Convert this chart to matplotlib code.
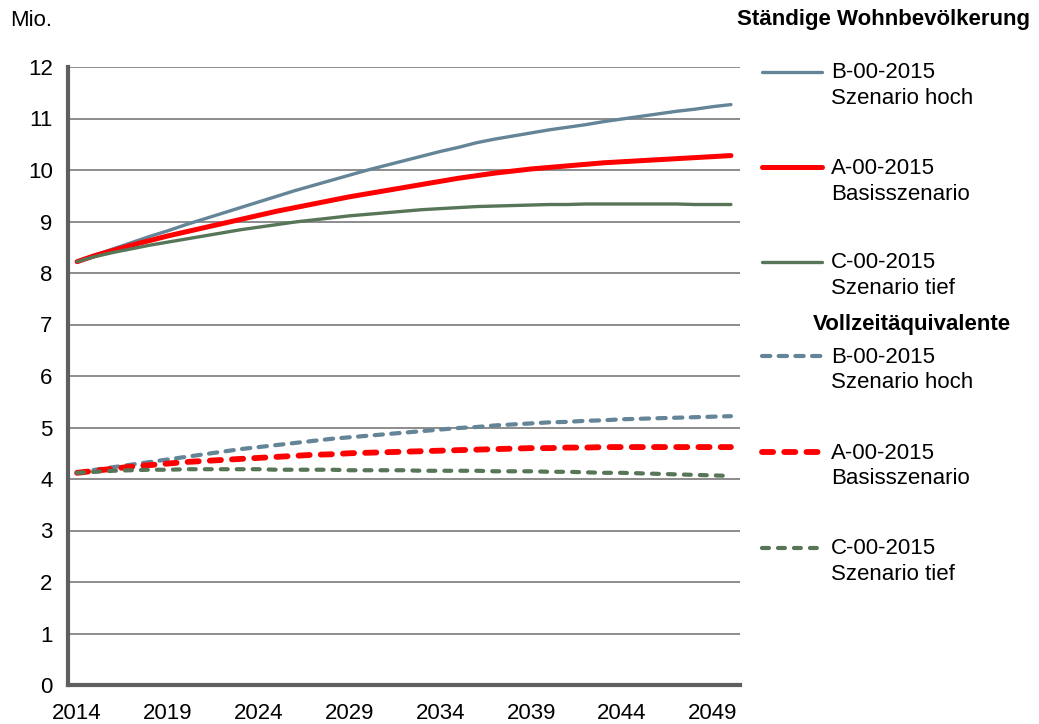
import matplotlib
matplotlib.use("Agg")
import matplotlib.pyplot as plt
from matplotlib.lines import Line2D
import numpy as np

plt.rcParams['font.family'] = ['Liberation Sans', 'DejaVu Sans']
plt.rcParams['lines.scale_dashes'] = False

years = list(range(2014, 2051))
tick_years = [2014, 2019, 2024, 2029, 2034, 2039, 2044, 2049]
y_ticks = list(range(0, 13))

pop_B = [8.22, 8.35, 8.47, 8.59, 8.71, 8.82, 8.94, 9.05, 9.16, 9.27, 9.38, 9.49, 9.60,
         9.70, 9.80, 9.90, 10.00, 10.09, 10.18, 10.27, 10.36, 10.44, 10.53, 10.60, 10.66,
         10.72, 10.78, 10.83, 10.88, 10.94, 10.99, 11.04, 11.09, 11.14, 11.18, 11.23, 11.27]
pop_A = [8.22, 8.34, 8.44, 8.54, 8.63, 8.72, 8.80, 8.88, 8.96, 9.04, 9.12, 9.20, 9.27,
         9.34, 9.41, 9.48, 9.54, 9.60, 9.66, 9.72, 9.78, 9.84, 9.89, 9.94, 9.98,
         10.02, 10.05, 10.08, 10.11, 10.14, 10.16, 10.18, 10.20, 10.22, 10.24, 10.26, 10.28]
pop_C = [8.22, 8.32, 8.40, 8.47, 8.54, 8.60, 8.66, 8.72, 8.78, 8.84, 8.89, 8.94, 8.99,
         9.03, 9.07, 9.11, 9.14, 9.17, 9.20, 9.23, 9.25, 9.27, 9.29, 9.30, 9.31,
         9.32, 9.33, 9.33, 9.34, 9.34, 9.34, 9.34, 9.34, 9.34, 9.33, 9.33, 9.33]
fte_B = [4.12, 4.18, 4.23, 4.28, 4.33, 4.38, 4.43, 4.48, 4.53, 4.58, 4.62, 4.66, 4.70,
         4.74, 4.78, 4.81, 4.84, 4.87, 4.90, 4.93, 4.96, 4.99, 5.01, 5.04, 5.06,
         5.08, 5.10, 5.11, 5.13, 5.14, 5.16, 5.17, 5.18, 5.19, 5.20, 5.21, 5.22]
fte_A = [4.12, 4.16, 4.20, 4.24, 4.27, 4.30, 4.33, 4.35, 4.37, 4.39, 4.41, 4.43, 4.45,
         4.47, 4.48, 4.50, 4.51, 4.52, 4.53, 4.54, 4.55, 4.56, 4.57, 4.58, 4.59,
         4.60, 4.60, 4.61, 4.61, 4.62, 4.62, 4.62, 4.62, 4.62, 4.62, 4.62, 4.62]
fte_C = [4.12, 4.14, 4.16, 4.17, 4.18, 4.18, 4.19, 4.19, 4.19, 4.19, 4.19, 4.18, 4.18,
         4.18, 4.18, 4.17, 4.17, 4.17, 4.17, 4.16, 4.16, 4.16, 4.16, 4.15, 4.15,
         4.15, 4.14, 4.14, 4.13, 4.12, 4.12, 4.11, 4.10, 4.09, 4.08, 4.07, 4.06]

codes = ["B-00-2015", "A-00-2015", "C-00-2015"]
names = ["Szenario hoch", "Basisszenario", "Szenario tief"]

C_BLUE = "#648497"
C_RED = "#ff0000"
C_GREEN = "#577657"
FS = 16

W, H = 1039, 724
fig = plt.figure(figsize=(W / 100, H / 100), dpi=100)
ax_left, ax_right, ax_top, ax_bot = 68, 740, 67, 685
ax = fig.add_axes([ax_left / W, 1 - ax_bot / H, (ax_right - ax_left) / W, (ax_bot - ax_top) / H])

styles_solid = [(pop_B, C_BLUE, 2.4), (pop_A, C_RED, 3.6), (pop_C, C_GREEN, 2.4)]
styles_dash = [(fte_B, C_BLUE, 3.0, (6, 6)), (fte_A, C_RED, 4.2, (8, 8)), (fte_C, C_GREEN, 3.0, (5, 6.5))]

for vals, col, lw in styles_solid:
    ax.plot(years, vals, color=col, lw=lw, solid_capstyle='round', zorder=3)
for vals, col, lw, dash in styles_dash:
    ax.plot(years, vals, color=col, lw=lw, dashes=dash, dash_capstyle='round', zorder=3)

ax.set_xlim(2013.5, 2050.5)
ax.set_ylim(0, 12)
ax.set_xticks(tick_years)
ax.set_xticklabels([str(y) for y in tick_years])
ax.set_yticks(y_ticks)
ax.tick_params(axis='both', length=0, labelsize=FS)
ax.tick_params(axis='y', pad=11)
ax.tick_params(axis='x', pad=13)
ax.yaxis.grid(True, color='#8c8c8c', lw=1.4)
ax.set_axisbelow(True)
for s in ['top', 'right']:
    ax.spines[s].set_visible(False)
for s in ['left', 'bottom']:
    ax.spines[s].set_color('#5f5f5f')
    ax.spines[s].set_linewidth(3.0)

def fx(px):
    return px / W

def fy(py):
    return 1 - py / H

fig.text(fx(10), fy(20), "Mio.", fontsize=FS, va='center', ha='left')
fig.text(fx(1030), fy(20), "Ständige Wohnbevölkerung", fontsize=FS, fontweight='bold', va='center', ha='right')
fig.text(fx(912), fy(325), "Vollzeitäquivalente", fontsize=FS, fontweight='bold', va='center', ha='center')

solid_rows = [72, 167, 262]
dash_rows = [356, 452, 548]
for (vals, col, lw), yy, c, n in zip(styles_solid, solid_rows, codes, names):
    fig.add_artist(Line2D([fx(762), fx(822)], [fy(yy), fy(yy)], color=col, lw=lw, solid_capstyle='round'))
    fig.text(fx(831), fy(yy + 1), c, fontsize=FS, va='center', ha='left')
    fig.text(fx(831), fy(yy + 27), n, fontsize=FS, va='center', ha='left')
for (vals, col, lw, dash), yy, c, n in zip(styles_dash, dash_rows, codes, names):
    fig.add_artist(Line2D([fx(762), fx(822)], [fy(yy), fy(yy)], color=col, lw=lw, dashes=dash, dash_capstyle='round'))
    fig.text(fx(831), fy(yy + 1), c, fontsize=FS, va='center', ha='left')
    fig.text(fx(831), fy(yy + 27), n, fontsize=FS, va='center', ha='left')

fig.savefig("out.png", dpi=100)
